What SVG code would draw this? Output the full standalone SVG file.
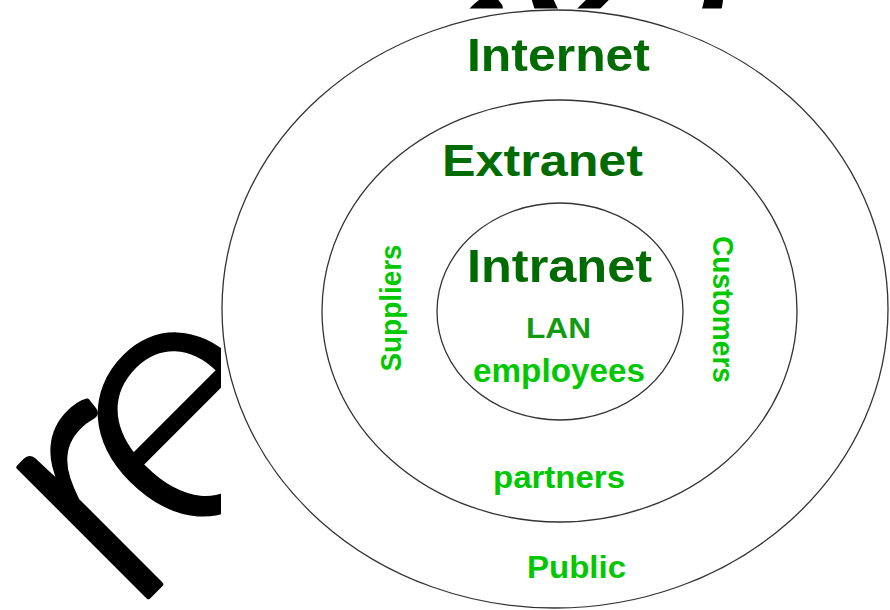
<svg xmlns="http://www.w3.org/2000/svg" width="890" height="610" viewBox="0 0 890 610">
  <style>
    .ring { fill: none; stroke: #333333; stroke-width: 1.3; }
    .lbl { font-family: "Liberation Sans", Arial, sans-serif; font-weight: bold; text-anchor: middle; }
    .dark { fill: #006b00; }
    .mid { fill: #129a12; }
    .bright { fill: #00c800; }
    .mark { font-family: Lato, "Open Sans", sans-serif; font-weight: 300; fill: #000000; stroke: #000000; stroke-width: 5; stroke-linejoin: round; }
  </style>

  <rect x="0" y="0" width="890" height="610" fill="#ffffff"/>

  <!-- diagonal overlay lettering, partly hidden under the diagram panel -->
  <text class="mark" font-size="368" transform="translate(127,618) rotate(-45)">r<tspan dx="-38">e</tspan><tspan dx="90">f</tspan><tspan dx="-100">erence</tspan></text>

  <!-- diagram panel background -->
  <rect x="221" y="8.5" width="669" height="601.5" fill="#ffffff"/>

  <g id="internet">
    <ellipse class="ring" cx="555" cy="309" rx="333" ry="299"/>
    <text class="lbl dark" x="558.5" y="71" font-size="47" textLength="183" lengthAdjust="spacingAndGlyphs">Internet</text>
    <text class="lbl bright" x="576.5" y="578" font-size="31" textLength="99" lengthAdjust="spacingAndGlyphs">Public</text>
  </g>

  <g id="extranet">
    <ellipse class="ring" cx="559.5" cy="311" rx="237.5" ry="211"/>
    <text class="lbl dark" x="542.5" y="176" font-size="45" textLength="201" lengthAdjust="spacingAndGlyphs">Extranet</text>
    <text class="lbl bright" font-size="29" textLength="127" lengthAdjust="spacingAndGlyphs" transform="translate(401,308) rotate(-90)">Suppliers</text>
    <text class="lbl bright" font-size="29" textLength="147" lengthAdjust="spacingAndGlyphs" transform="translate(713,309.5) rotate(90)">Customers</text>
    <text class="lbl bright" x="559" y="488" font-size="32" textLength="132" lengthAdjust="spacingAndGlyphs">partners</text>
  </g>

  <g id="intranet">
    <ellipse class="ring" cx="560" cy="311.5" rx="123" ry="108.5"/>
    <text class="lbl dark" x="559.5" y="282" font-size="46" textLength="185" lengthAdjust="spacingAndGlyphs">Intranet</text>
    <text class="lbl mid" x="558.5" y="338" font-size="29" textLength="65" lengthAdjust="spacingAndGlyphs">LAN</text>
    <text class="lbl bright" x="559" y="382" font-size="33" textLength="172" lengthAdjust="spacingAndGlyphs">employees</text>
  </g>

  <g id="connectors"></g>
</svg>
